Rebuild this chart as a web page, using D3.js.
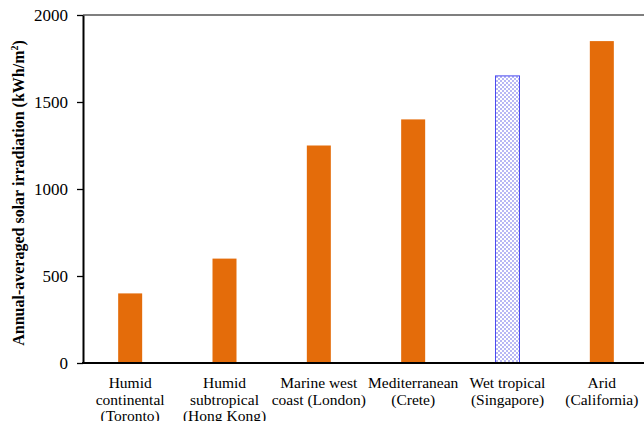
<!DOCTYPE html>
<html><head><meta charset="utf-8">
<script src="https://cdn.jsdelivr.net/npm/d3@7"></script>
<style>body{margin:0;background:#fff}svg{display:block}
text{font-family:"Liberation Serif","Times New Roman","DejaVu Serif",serif}</style>
</head><body>
<script>
const categories = [
  ["Humid","continental","(Toronto)"],
  ["Humid","subtropical","(Hong Kong)"],
  ["Marine west","coast (London)"],
  ["Mediterranean","(Crete)"],
  ["Wet tropical","(Singapore)"],
  ["Arid","(California)"]
];
const values = [400, 600, 1250, 1400, 1650, 1850];
const patterned = [false, false, false, false, true, false];
const yTicks = [0, 500, 1000, 1500, 2000];

const W = 644, H = 421;
const m = {left: 83, top: 15, bottom: 363, right: 649};
const FONT = "'Liberation Serif','Times New Roman','DejaVu Serif',serif";
const svg = d3.select("body").append("svg").attr("width", W).attr("height", H);

const defs = svg.append("defs");
const pat = defs.append("pattern").attr("id","chk").attr("patternUnits","userSpaceOnUse")
  .attr("width",4).attr("height",4);
pat.append("rect").attr("width",4).attr("height",4).attr("fill","#fff");
pat.append("rect").attr("x",0).attr("y",0).attr("width",2).attr("height",2).attr("fill","#b8b8f4");
pat.append("rect").attr("x",2).attr("y",2).attr("width",2).attr("height",2).attr("fill","#b8b8f4");

const x = d3.scaleBand().domain(d3.range(categories.length)).range([m.left, m.right]).paddingInner(0).paddingOuter(0);
const y = d3.scaleLinear().domain([0, 2000]).range([m.bottom, m.top]);
const bw = 24;

// bars
svg.selectAll("rect.bar").data(values).join("rect")
  .attr("class","bar")
  .attr("x",(d,i)=>x(i)+x.bandwidth()/2-bw/2)
  .attr("width",bw)
  .attr("y",d=>y(d))
  .attr("height",d=>y(0)-y(d))
  .attr("fill",(d,i)=>patterned[i]?"url(#chk)":"#E46C0A")
  .attr("stroke",(d,i)=>patterned[i]?"#4a4af0":"none")
  .attr("stroke-width",1);

// top border
svg.append("line").attr("x1",m.left).attr("x2",W).attr("y1",y(2000)).attr("y2",y(2000))
  .attr("stroke","#000").attr("stroke-width",1.2);

// y axis
const ya = svg.append("g").attr("transform",`translate(${m.left},0)`)
  .call(d3.axisLeft(y).tickValues(yTicks).tickFormat(d3.format("d")).tickSize(6).tickPadding(9).tickSizeOuter(0));
ya.attr("font-family",FONT);
ya.select(".domain").attr("stroke-width",2);
ya.selectAll(".tick line").attr("stroke-width",1.3);
ya.selectAll("text").attr("font-family",FONT).attr("font-size",17).attr("fill","#000");

// x axis line
svg.append("line").attr("x1",m.left-1).attr("x2",W).attr("y1",m.bottom).attr("y2",m.bottom)
  .attr("stroke","#000").attr("stroke-width",2.2);

// category labels
const lab = svg.selectAll("text.cat").data(categories).join("text")
  .attr("class","cat")
  .attr("font-family",FONT).attr("font-size",15.5).attr("fill","#000")
  .attr("text-anchor","middle");
lab.each(function(d,i){
  const t = d3.select(this);
  d.forEach((s,j)=>t.append("tspan").attr("x",x(i)+x.bandwidth()/2).attr("y",388+j*16.5).text(s));
});

// y title
const yt = svg.append("text").attr("transform",`translate(24,${(m.top+m.bottom)/2 + 4}) rotate(-90)`)
  .attr("text-anchor","middle").attr("font-family",FONT).attr("font-weight","bold")
  .attr("font-size",16).attr("fill","#000");
yt.append("tspan").text("Annual-averaged solar irradiation (kWh/m");
yt.append("tspan").attr("font-size",10).attr("dy",-6).text("2");
yt.append("tspan").attr("dy",6).text(")");
</script>
</body></html>
